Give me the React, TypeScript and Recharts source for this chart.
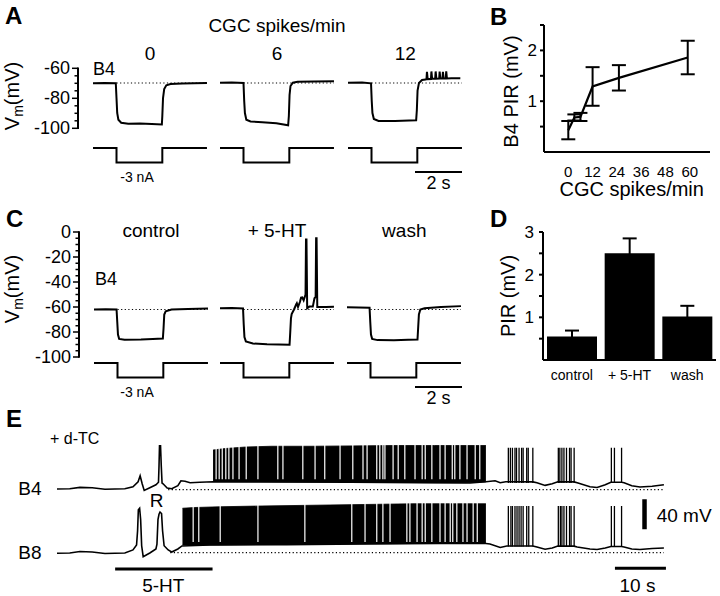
import React from "react";
import {
  LineChart,
  Line,
  XAxis,
  YAxis,
  ReferenceLine,
  ComposedChart,
  Area,
  BarChart,
  Bar,
  ErrorBar,
} from "recharts";

const FONT = "'Liberation Sans', Arial, Helvetica, sans-serif";
const INK = "#000";

// ================= DATA =================
// Panel A: B4 sweeps (time s, Vm mV) at three CGC firing rates
const A_TITLE = "CGC spikes/min";
const A_RATES = ["0", "6", "12"];
const A_VM_TICKS = [-100, -95, -90, -85, -80, -75, -70, -65, -60];
const A_REST = -70;
const A_SWEEP_0: [number, number][] = [
  [0, -70.2], [0.5, -70], [0.97, -70.1], [1.0, -80], [1.03, -90], [1.08, -94.5], [1.2, -96.5],
  [1.5, -97.2], [2.0, -97], [2.5, -97.4], [2.93, -97.7], [2.95, -92], [2.98, -80], [3.03, -74],
  [3.12, -71.5], [3.3, -70.7], [3.8, -70.3], [4.3, -70.1], [4.85, -70],
];
const A_SWEEP_6: [number, number][] = [
  [0, -69.8], [0.5, -69.6], [1.0, -70], [1.03, -82], [1.06, -90], [1.12, -94.5], [1.3, -95.6],
  [1.8, -96.2], [2.4, -96.8], [2.9, -98.2], [2.93, -92], [2.96, -78], [3.0, -72], [3.1, -69.8],
  [3.3, -69.2], [4.0, -69], [4.85, -68.8],
];
const A_SWEEP_12: [number, number][] = [
  [0, -69.8], [0.6, -69.6], [0.98, -70.2], [1.01, -82], [1.04, -90], [1.1, -94], [1.3, -95.3],
  [2.0, -95.3], [2.6, -95], [2.9, -94.8], [2.93, -88], [2.96, -75], [3.02, -70], [3.15, -68],
  [3.3, -67.6], [3.34, -67.5], [3.36, -62.5], [3.39, -67.4], [3.53, -67.3], [3.55, -62.3],
  [3.58, -67.2], [3.71, -67.2], [3.73, -62.3], [3.76, -67.1], [3.88, -67], [3.9, -62.4],
  [3.93, -67], [4.02, -67], [4.04, -62.5], [4.07, -67], [4.16, -67], [4.18, -62.2], [4.21, -67],
  [4.4, -66.8], [4.78, -66.9],
];
// injected current (nA)
const CURRENT_STEP: [number, number][] = [
  [0, 0], [1.0, 0], [1.0, -3], [2.95, -3], [2.95, 0], [4.85, 0],
];
const CURRENT_LABEL = "-3 nA";
const SWEEP_SCALE_S = 2;

// Panel B: B4 PIR vs CGC rate
const B_RATE = [0, 3, 6, 12, 25, 59];
const B_PIR = [0.43, 0.68, 0.69, 1.29, 1.46, 1.86];
const B_SEM = [0.18, 0.06, 0.08, 0.38, 0.25, 0.33];
const B_X_TICKS = [0, 12, 24, 36, 48, 60];
const B_Y_TICKS = [0.5, 1, 1.5, 2, 2.5];

// Panel C: B4 sweeps control / 5-HT / wash
const C_TITLES = ["control", "+ 5-HT", "wash"];
const C_VM_TICKS = [
  -100, -95, -90, -85, -80, -75, -70, -65, -60, -55, -50, -45, -40, -35, -30, -25, -20, -15, -10, -5, 0,
];
const C_REST = -62;
const C_CONTROL: [number, number][] = [
  [0, -62], [0.5, -61.8], [0.96, -62], [0.99, -72], [1.02, -82], [1.07, -85.5], [1.3, -86.2],
  [2.0, -86], [2.5, -85.6], [2.93, -85.3], [2.96, -77], [2.99, -66], [3.05, -63.5], [3.3, -62],
  [4.0, -61.6], [4.85, -61.2],
];
const C_5HT: [number, number][] = [
  [0, -61], [0.5, -60.8], [0.98, -61.2], [1.01, -74], [1.04, -84], [1.1, -87.5], [1.4, -89.2],
  [2.0, -89.8], [2.5, -90], [2.96, -90.2], [2.99, -80], [3.02, -69], [3.05, -65.6], [3.15, -62],
  [3.24, -58], [3.27, -57], [3.32, -60], [3.4, -56], [3.45, -52.5], [3.5, -52.3], [3.56, -54.7],
  [3.64, -50], [3.66, -5.9], [3.68, -5.9], [3.71, -61], [3.8, -59.7], [3.95, -59.7], [4.02, -53],
  [4.07, -52], [4.09, -5], [4.11, -5], [4.14, -60], [4.5, -60], [4.85, -59.8],
];
const C_WASH: [number, number][] = [
  [0, -60.3], [0.5, -60.4], [0.96, -60.6], [0.99, -72], [1.02, -82], [1.07, -85.5], [1.3, -86.5],
  [2.0, -86.6], [2.6, -86.3], [3.0, -86], [3.03, -76], [3.06, -66], [3.12, -62], [3.3, -61],
  [4.0, -60], [4.85, -59.3],
];

// Panel D: PIR bar chart
const D_COND = ["control", "+ 5-HT", "wash"];
const D_PIR = [0.55, 2.5, 1.02];
const D_SEM = [0.14, 0.35, 0.25];
const D_Y_TICKS = [0.5, 1, 1.5, 2, 2.5, 3];

// Panel E: B4 / B8 recordings (time s, deflection mV from rest)
const E_B4_TRACE: [number, number][] = [
  [0, 0], [2.5, 0.4], [4.5, 2.1], [6.9, 1.7], [9.4, -0.3], [13.3, 0.4], [14.9, 3], [15.9, 9.7],
  [16.3, 17.7], [16.7, 7], [17.1, -1.9], [18.2, 1.7], [19.4, 5.7], [19.9, 9], [20.0, 30],
  [20.1, 57.7], [20.3, 57.7], [20.45, 30], [20.6, 8], [20.8, 7], [21.6, 1.3], [22.5, 0.4],
  [23.7, 4.4], [24.3, 11], [25.1, 10.4], [26.1, 8.4], [28, 9], [30.6, 9.7], [40, 9.5], [57.5, 9],
  [71.2, 8.5], [81, 8], [84.1, 9.7], [85.9, 11], [86.9, 8.4], [88, 9.7], [93.3, 9.5], [94.1, 8.4],
  [95.7, 4.8], [97.1, 7], [98.2, 9.7], [101.4, 9.5], [102, 8.4], [104.5, 3], [105.9, 2.1],
  [107.5, 5.7], [108.6, 9], [110.7, 9], [111.2, 8.4], [112.7, 4.4], [114.3, 2.7], [116.7, 3.7],
  [119, 5.7],
];
const E_B8_TRACE: [number, number][] = [
  [0, 0], [2.5, 0.4], [4.5, 2.4], [6.9, 1.7], [9.4, -0.3], [13.3, 0.4], [14.9, 4.4], [15.6, 11],
  [15.8, 30], [15.95, 58], [16.2, 60], [16.4, 45], [16.6, 10], [16.9, -4.5], [18.2, 0.4],
  [19.4, 5.7], [19.6, 12], [19.8, 45], [20.0, 52], [20.2, 55], [20.5, 53], [20.7, 30], [21.0, 10],
  [21.8, 4.4], [22.5, 1.7], [23.7, 5.7], [24.5, 9.7], [30, 11], [45, 11.5], [60, 12.5], [75, 13],
  [84.1, 13], [84.9, 12.4], [86.9, 7.7], [88.2, 9.7], [93.3, 9.7], [94.1, 8.4], [95.7, 5.3],
  [97.1, 7], [98.2, 9.7], [101.4, 9.5], [102, 8.4], [104.5, 5.7], [105.9, 5], [107.5, 7],
  [108.6, 9], [110.7, 9], [111.2, 8.4], [112.7, 5.7], [114.3, 5], [116.7, 6.4], [119, 7],
];
// continuous high-frequency firing: [t, trough, peak]
const E_B4_DENSE: [number, number, number][] = [
  [30.6, 10, 52], [33, 10, 54], [37, 9.8, 56], [42, 9.7, 57], [50, 9.5, 57], [58, 9.2, 57.5],
  [66, 8.8, 58], [74, 8.5, 58], [80, 8.5, 58], [84.1, 9.5, 58],
];
const E_B8_DENSE: [number, number, number][] = [
  [24.6, 11, 60], [27, 11, 61], [32, 11, 62], [40, 11.5, 63], [50, 12, 64], [60, 12.5, 65],
  [70, 13, 66], [78, 13.5, 66], [84.1, 13, 66],
];
// brief pauses inside the continuous firing
const E_B4_GAPS = [
  31.2, 31.8, 32.4, 33.1, 33.7, 34.5, 35.7, 37.1, 39.4, 43.3, 44.3, 48.2, 50.6, 52.5, 55.5, 58.0,
  60.0, 60.8, 62.7, 63.3, 63.9, 64.3, 65.9, 66.9, 68.2, 70.2, 71.6, 72.2, 73.5, 75.1, 76.1, 77.5,
  78.0, 79.0, 80.4, 82.0, 82.9,
];
const E_B8_GAPS = [
  26.7, 27.8, 32.0, 39.4, 48.6, 57.8, 60.4, 62.7, 63.9, 65.3, 68.6, 69.2, 70.6, 71.6, 72.2, 73.5,
  75.1, 76.1, 77.1, 77.6, 78.4, 79.6, 80.4, 81.6, 82.4,
];
// spikes in the later bursts
const E_B4_SPIKES = [
  88.5, 88.9, 89.3, 89.8, 90.1, 90.6, 91.1, 91.4, 92.1, 92.4, 93.3, 98.3, 98.6, 99.0, 99.4, 99.9,
  100.5, 100.8, 101.4, 108.7, 109.3, 110.7,
];
const E_B8_SPIKES = [
  88.5, 89.0, 89.3, 89.8, 90.2, 90.6, 91.0, 91.4, 92.1, 92.5, 93.3, 98.3, 98.7, 99.0, 99.4, 99.9,
  100.5, 100.8, 101.4, 108.7, 109.3, 110.7,
];
const E_FIVE_HT: [number, number] = [11.4, 30.5];
const E_SCALE_S = 10;
const E_SCALE_MV = 40;

// ================= HELPERS =================
const PAD = 6;
const toObj = (pts: [number, number][]) => pts.map(([t, v]) => ({ t, v }));

function Plot({ left, top, width, height, xDomain, yDomain, data, children }: any) {
  return (
    <div style={{ position: "absolute", left: left - PAD, top: top - PAD }}>
      <ComposedChart
        width={width + 2 * PAD}
        height={height + 2 * PAD}
        margin={{ top: PAD, right: PAD, bottom: PAD, left: PAD }}
        data={data}
      >
        <XAxis type="number" dataKey="t" domain={xDomain} hide />
        <YAxis type="number" domain={yDomain} hide />
        {children}
      </ComposedChart>
    </div>
  );
}

function Trace({ left, top, width, height, xDomain, yDomain, points, sw = 2, children }: any) {
  return (
    <Plot left={left} top={top} width={width} height={height} xDomain={xDomain} yDomain={yDomain} data={toObj(points)}>
      {children}
      <Line type="linear" dataKey="v" stroke={INK} strokeWidth={sw} dot={false} activeDot={false} isAnimationActive={false} />
    </Plot>
  );
}

function HScale({ left, y, length, ppu, sw }: any) {
  const data = [
    { t: 0, v: 0 },
    { t: length, v: 0 },
  ];
  return (
    <Plot left={left} top={y - 2} width={length * ppu} height={4} xDomain={[0, length]} yDomain={[-1, 1]} data={data}>
      <Line dataKey="v" stroke={INK} strokeWidth={sw} dot={false} activeDot={false} isAnimationActive={false} />
    </Plot>
  );
}

// sweep geometry
const SWEEP_T = 4.85;
const PPS = 23.5; // px per second
const SWEEP_W = SWEEP_T * PPS;
const A_AXIS_X = 78;
const C_AXIS_X = 79;
const A_X = [93, 220, 348.3];
const C_X = [94, 220, 347.3];
const A_SWEEPS = [A_SWEEP_0, A_SWEEP_6, A_SWEEP_12];
const C_SWEEPS = [C_CONTROL, C_5HT, C_WASH];
const A_V = { top: 68.3, height: 60, domain: [-100, -60] };
const C_V = { top: 232, height: 125, domain: [-100, 0] };

// first sweep of a row carries the Vm tick labels
function AxisSweep({ axisX, sweepX, top, height, domain, ticks, points, rest }: any) {
  const YW = 48;
  const py = 14;
  const XH = 1;
  const lead = sweepX - axisX;
  const t0 = -lead / PPS;
  const plotW = lead + SWEEP_W;
  return (
    <div style={{ position: "absolute", left: axisX - YW, top: top - py }}>
      <LineChart
        width={YW + plotW + PAD}
        height={py + height + XH + py}
        margin={{ top: py, right: PAD, bottom: py, left: 0 }}
        data={toObj(points)}
      >
        <XAxis type="number" dataKey="t" domain={[t0, SWEEP_T]} height={XH} tick={false} tickLine={false} axisLine={false} />
        <YAxis
          type="number"
          domain={domain}
          ticks={ticks}
          interval={0}
          width={YW}
          tickSize={0}
          tickMargin={8}
          tickLine={false}
          axisLine={false}
          tickFormatter={(v: number) => (v % 20 === 0 ? String(v) : "")}
          tick={{ fontSize: 18, fill: INK, fontFamily: FONT }}
        />
        <ReferenceLine segment={[{ x: 1.0, y: rest }, { x: SWEEP_T, y: rest }]} stroke={INK} strokeWidth={1.2} strokeDasharray="1.2 2.4" />
        <Line type="linear" dataKey="v" stroke={INK} strokeWidth={2} dot={false} activeDot={false} isAnimationActive={false} />
      </LineChart>
    </div>
  );
}

// axis line and tick marks for a Vm axis (same linear mapping as the sweep charts)
function VmAxisMarks({ axisX, geo, ticks }: any) {
  const [d0, d1] = geo.domain;
  const yOf = (v: number) => geo.top + ((d1 - v) / (d1 - d0)) * geo.height;
  return (
    <g stroke={INK}>
      <line x1={axisX} x2={axisX} y1={yOf(d1) - 0.75} y2={yOf(d0) + 0.75} strokeWidth={2} />
      {ticks.map((v: number) => (
        <line key={v} x1={axisX - (v % 20 === 0 ? 6 : 3.5)} x2={axisX} y1={yOf(v)} y2={yOf(v)} strokeWidth={1.5} />
      ))}
    </g>
  );
}

// E geometry
const E_X0 = 57;
const E_T = 120;
const E_PPS = 5.1;
const E_W = E_T * E_PPS;

function Band({ top, height, yDomain, dense, gaps, gapLo, gapHi }: any) {
  const data = dense.map(([t, lo, hi]: number[]) => ({ t, band: [lo, hi] }));
  return (
    <Plot left={E_X0} top={top} width={E_W} height={height} xDomain={[0, E_T]} yDomain={yDomain} data={data}>
      <Area type="linear" dataKey="band" fill={INK} fillOpacity={1} stroke={INK} strokeWidth={0.8} dot={false} activeDot={false} isAnimationActive={false} />
      {gaps.map((t: number) => (
        <ReferenceLine key={t} segment={[{ x: t, y: gapLo }, { x: t, y: gapHi }]} stroke="#fff" strokeWidth={1.2} />
      ))}
    </Plot>
  );
}

function SweepRow({ xs, axisX, sweeps, geo, vTicks, rest, iTop }: any) {
  return (
    <>
      {sweeps.map((pts: [number, number][], i: number) => (
        <React.Fragment key={i}>
          {i === 0 ? (
            <AxisSweep axisX={axisX} sweepX={xs[0]} top={geo.top} height={geo.height} domain={geo.domain} ticks={vTicks} points={pts} rest={rest} />
          ) : (
            <Trace left={xs[i]} top={geo.top} width={SWEEP_W} height={geo.height} xDomain={[0, SWEEP_T]} yDomain={geo.domain} points={pts}>
              <ReferenceLine segment={[{ x: 1.0, y: rest }, { x: SWEEP_T, y: rest }]} stroke={INK} strokeWidth={1.2} strokeDasharray="1.2 2.4" />
            </Trace>
          )}
          <Trace left={xs[i]} top={iTop} width={SWEEP_W} height={14.6} xDomain={[0, SWEEP_T]} yDomain={[-3, 0]} points={CURRENT_STEP} />
        </React.Fragment>
      ))}
    </>
  );
}

export default function App() {
  const bData = B_RATE.map((r, i) => ({ rate: r, pir: B_PIR[i], sem: B_SEM[i] }));
  const dData = D_COND.map((c, i) => ({ cond: c, pir: D_PIR[i], sem: D_SEM[i] }));
  const txt = { fontFamily: FONT, fill: INK } as any;

  return (
    <div
      style={{
        position: "absolute",
        left: 0,
        top: 0,
        width: 720,
        height: 596,
        background: "#fff",
        fontFamily: FONT,
        overflow: "hidden",
      }}
    >
      {/* ---------- Panel A ---------- */}
      <SweepRow xs={A_X} axisX={A_AXIS_X} sweeps={A_SWEEPS} geo={A_V} vTicks={A_VM_TICKS} rest={A_REST} iTop={147.7} />
      <HScale left={415} y={172.3} length={SWEEP_SCALE_S} ppu={PPS} sw={2} />

      {/* ---------- Panel C ---------- */}
      <SweepRow xs={C_X} axisX={C_AXIS_X} sweeps={C_SWEEPS} geo={C_V} vTicks={C_VM_TICKS} rest={C_REST} iTop={362.7} />
      <HScale left={415} y={387.3} length={SWEEP_SCALE_S} ppu={PPS} sw={2} />

      {/* ---------- Panel B ---------- */}
      <div style={{ position: "absolute", left: 544 - 40, top: 25 - 12 }}>
        <LineChart width={40 + 166 + 8} height={12 + 127 + 40} margin={{ top: 12, right: 8, bottom: 0, left: 0 }} data={bData}>
          <XAxis
            type="number"
            dataKey="rate"
            domain={[-12, 70]}
            ticks={B_X_TICKS}
            interval={0}
            height={40}
            tickLine={false}
            tickSize={0}
            tickMargin={14}
            axisLine={{ stroke: INK, strokeWidth: 2 }}
            tick={{ fontSize: 15, ...txt }}
          />
          <YAxis
            type="number"
            domain={[0, 2.5]}
            ticks={B_Y_TICKS}
            interval={0}
            width={40}
            tickSize={4}
            tickMargin={3}
            tickLine={{ stroke: INK, strokeWidth: 2 }}
            axisLine={{ stroke: INK, strokeWidth: 2 }}
            tickFormatter={(v: number) => (Number.isInteger(v) ? String(v) : "")}
            tick={{ fontSize: 17, ...txt }}
          />
          <Line type="linear" dataKey="pir" stroke={INK} strokeWidth={2.2} dot={false} activeDot={false} isAnimationActive={false}>
            <ErrorBar dataKey="sem" width={7} stroke={INK} strokeWidth={2} direction="y" />
          </Line>
        </LineChart>
      </div>

      {/* ---------- Panel D ---------- */}
      <div style={{ position: "absolute", left: 543 - 44, top: 232 - 12 }}>
        <BarChart width={44 + 173 + 4} height={12 + 128 + 30} margin={{ top: 12, right: 4, bottom: 0, left: 0 }} data={dData}>
          <XAxis
            dataKey="cond"
            type="category"
            interval={0}
            height={30}
            tickLine={false}
            tickSize={0}
            tickMargin={10}
            axisLine={{ stroke: INK, strokeWidth: 2 }}
            tick={{ fontSize: 14, ...txt }}
          />
          <YAxis
            type="number"
            domain={[0, 3]}
            ticks={D_Y_TICKS}
            interval={0}
            width={44}
            tickSize={4}
            tickMargin={5}
            tickLine={{ stroke: INK, strokeWidth: 2 }}
            axisLine={{ stroke: INK, strokeWidth: 2 }}
            tickFormatter={(v: number) => (Number.isInteger(v) ? String(v) : "")}
            tick={{ fontSize: 17, ...txt }}
          />
          <Bar dataKey="pir" fill={INK} barSize={50} isAnimationActive={false}>
            <ErrorBar dataKey="sem" width={7} stroke={INK} strokeWidth={2} direction="y" />
          </Bar>
        </BarChart>
      </div>

      {/* ---------- Panel E ---------- */}
      <Band top={444.3} height={51} yDomain={[-8, 60]} dense={E_B4_DENSE} gaps={E_B4_GAPS} gapLo={13} gapHi={60} />
      <Trace left={E_X0} top={444.3} width={E_W} height={51} xDomain={[0, E_T]} yDomain={[-8, 60]} points={E_B4_TRACE} sw={1.6}>
        <ReferenceLine segment={[{ x: 21.8, y: -0.9 }, { x: 119, y: -0.9 }]} stroke={INK} strokeWidth={1.2} strokeDasharray="1.2 2.4" />
        {E_B4_SPIKES.map((t) => (
          <ReferenceLine key={"s4" + t} segment={[{ x: t, y: 8 }, { x: t, y: 55 }]} stroke={INK} strokeWidth={1.3} />
        ))}
      </Trace>

      <Band top={497.05} height={63.75} yDomain={[-10, 75]} dense={E_B8_DENSE} gaps={E_B8_GAPS} gapLo={15} gapHi={74} />
      <Trace left={E_X0} top={497.05} width={E_W} height={63.75} xDomain={[0, E_T]} yDomain={[-10, 75]} points={E_B8_TRACE} sw={1.6}>
        <ReferenceLine segment={[{ x: 22.2, y: 0.8 }, { x: 119, y: 0.8 }]} stroke={INK} strokeWidth={1.2} strokeDasharray="1.2 2.4" />
        {E_B8_SPIKES.map((t) => (
          <ReferenceLine key={"s8" + t} segment={[{ x: t, y: 9 }, { x: t, y: 63 }]} stroke={INK} strokeWidth={1.3} />
        ))}
        <ReferenceLine segment={[{ x: 115.2, y: 32 }, { x: 115.2, y: 32 + E_SCALE_MV }]} stroke={INK} strokeWidth={4.5} />
      </Trace>

      {/* timeline: 5-HT application and 10 s bar */}
      <Plot
        left={E_X0}
        top={561}
        width={E_W}
        height={16}
        xDomain={[0, E_T]}
        yDomain={[0, 1]}
        data={[
          { t: E_FIVE_HT[0], v: 0.5 },
          { t: E_FIVE_HT[1], v: 0.5 },
        ]}
      >
        <Line dataKey="v" stroke={INK} strokeWidth={3} dot={false} activeDot={false} isAnimationActive={false} />
        <ReferenceLine segment={[{ x: 109.4, y: 0.55 }, { x: 109.4 + E_SCALE_S, y: 0.55 }]} stroke={INK} strokeWidth={3} />
      </Plot>

      {/* ---------- Text and Vm axis marks ---------- */}
      <svg width={720} height={596} style={{ position: "absolute", left: 0, top: 0, pointerEvents: "none" }}>
        <VmAxisMarks axisX={A_AXIS_X} geo={A_V} ticks={A_VM_TICKS} />
        <VmAxisMarks axisX={C_AXIS_X} geo={C_V} ticks={C_VM_TICKS} />
        <g fontFamily={FONT} fill={INK}>
          <text x={5} y={24} fontSize={24} fontWeight="bold">A</text>
          <text x={490} y={25} fontSize={24} fontWeight="bold">B</text>
          <text x={6} y={227} fontSize={24} fontWeight="bold">C</text>
          <text x={490} y={227} fontSize={24} fontWeight="bold">D</text>
          <text x={6} y={427} fontSize={24} fontWeight="bold">E</text>

          <text x={277} y={32} fontSize={19} textAnchor="middle">{A_TITLE}</text>
          {A_RATES.map((r, i) => (
            <text key={r} x={A_X[i] + SWEEP_W / 2} y={60} fontSize={19} textAnchor="middle">{r}</text>
          ))}
          <text x={93} y={75} fontSize={18}>B4</text>
          <text x={137} y={181.7} fontSize={14} textAnchor="middle">{CURRENT_LABEL}</text>
          <text x={438.5} y={188.5} fontSize={18} textAnchor="middle">{SWEEP_SCALE_S} s</text>
          <text x={18.5} y={96} fontSize={20} textAnchor="middle" transform="rotate(-90 18.5 96)">
            V<tspan fontSize={14} dy={4}>m</tspan><tspan dy={-4}>(mV)</tspan>
          </text>

          {C_TITLES.map((r, i) => (
            <text key={r} x={C_X[i] + SWEEP_W / 2} y={236.7} fontSize={19} textAnchor="middle">{r}</text>
          ))}
          <text x={95} y={285} fontSize={18}>B4</text>
          <text x={137} y={396.7} fontSize={14} textAnchor="middle">{CURRENT_LABEL}</text>
          <text x={438.5} y={403.5} fontSize={18} textAnchor="middle">{SWEEP_SCALE_S} s</text>
          <text x={19} y={289} fontSize={20} textAnchor="middle" transform="rotate(-90 19 289)">
            V<tspan fontSize={14} dy={4}>m</tspan><tspan dy={-4}>(mV)</tspan>
          </text>

          <text x={518} y={91.5} fontSize={20} textAnchor="middle" transform="rotate(-90 518 91.5)">B4 PIR (mV)</text>
          <text x={631.7} y={196} fontSize={20} textAnchor="middle">CGC spikes/min</text>
          <text x={515} y={296} fontSize={20} textAnchor="middle" transform="rotate(-90 515 296)">PIR (mV)</text>

          <text x={50} y={444} fontSize={16}>+ d-TC</text>
          <text x={18.3} y={495} fontSize={19}>B4</text>
          <text x={18.3} y={559.3} fontSize={19}>B8</text>
          <text x={156.7} y={506.7} fontSize={19} textAnchor="middle">R</text>
          <text x={163.3} y={591.7} fontSize={19} textAnchor="middle">5-HT</text>
          <text x={637.5} y={591.7} fontSize={19} textAnchor="middle">{E_SCALE_S} s</text>
          <text x={656.7} y={521.7} fontSize={19}>{E_SCALE_MV} mV</text>
        </g>
      </svg>
    </div>
  );
}
